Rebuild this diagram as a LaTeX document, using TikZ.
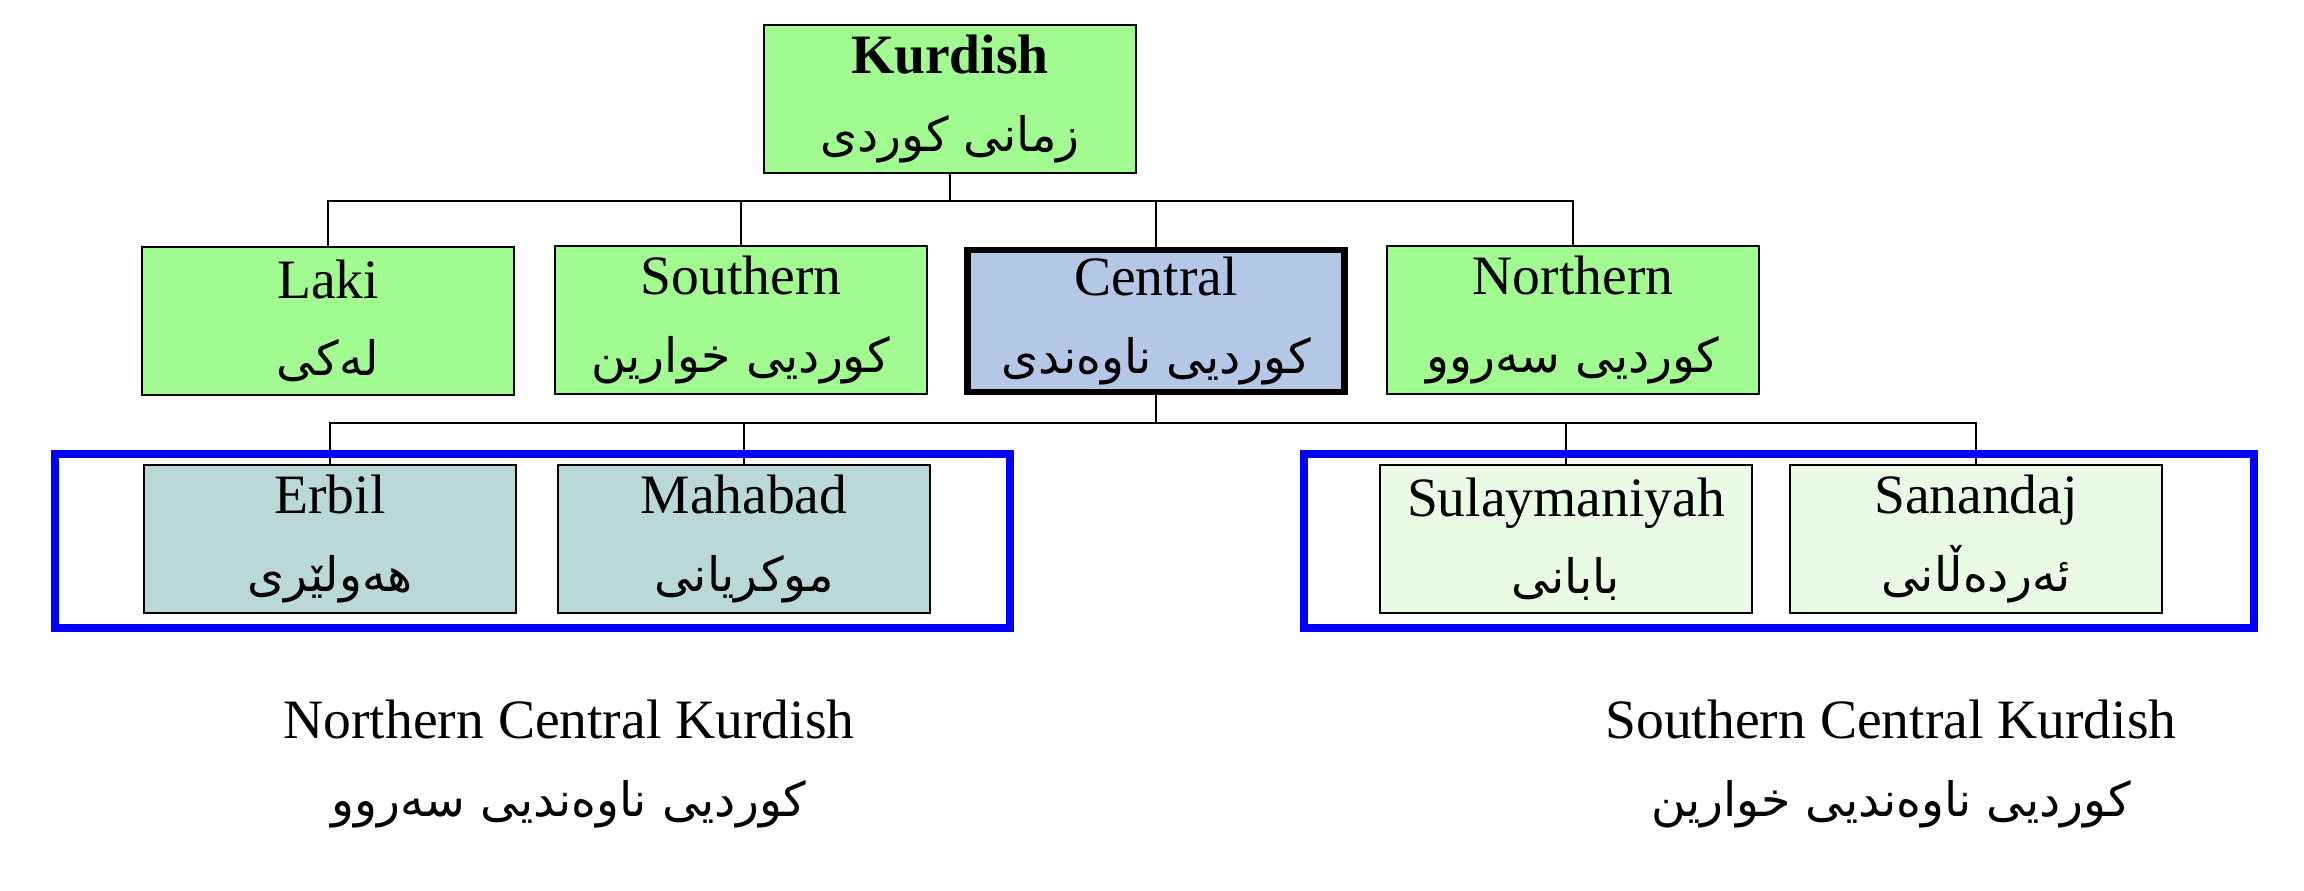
\documentclass[tikz,border=0pt]{standalone}
\usepackage{fontspec}
\setmainfont{Liberation Serif}
\newfontfamily\arabicfont[Script=Arabic]{DejaVu Sans}
\TeXXeTstate=1
\usepackage{tikz}
\newcommand{\ku}[1]{{\fontsize{13.5}{22}\arabicfont\beginR #1\endR}}
\definecolor{kgreen}{RGB}{162,251,144}
\definecolor{cblue}{RGB}{181,199,230}
\definecolor{nteal}{RGB}{187,216,217}
\definecolor{spale}{RGB}{233,251,229}
\tikzset{
	box/.style = {draw, line width=0.7pt, minimum width=3.72cm, minimum height=1.48cm,
		align=center, inner sep=0pt, font=\fontsize{15.8}{22}\selectfont},
	group/.style = {draw=blue, line width=2.3pt},
	link/.style = {line width=0.5pt}
}

\begin{document}
\begin{tikzpicture}[x=0.01cm, y=-0.01cm]
	\useasboundingbox (0,0) rectangle (2304,890);
	% top
	\node [box, fill=kgreen] (kurdish) at (950,99) {\textbf{Kurdish}\\\ku{زمانی کوردی}};
	% dialect groups
	\node [box, fill=kgreen] (laki) at (328,321) {Laki\\\ku{لەکی}};
	\node [box, fill=kgreen] (southern) at (741,320) {Southern\\\ku{کوردیی خوارین}};
	\node [box, fill=cblue, line width=1.8pt, minimum width=3.77cm, minimum height=1.42cm] (central) at (1156,321) {Central\\\ku{کوردیی ناوەندی}};
	\node [box, fill=kgreen] (northern) at (1573,320) {Northern\\\ku{کوردیی سەروو}};
	% sub-dialects
	\node [box, fill=nteal] (erbil) at (330,539) {Erbil\\\ku{هەولێری}};
	\node [box, fill=nteal] (mahabad) at (744,539) {Mahabad\\\ku{موکریانی}};
	\node [box, fill=spale] (sulaymaniyah) at (1566,539) {Sulaymaniyah\\\ku{بابانی}};
	\node [box, fill=spale] (sanandaj) at (1976,539) {Sanandaj\\\ku{ئەردەڵانی}};
	% links
	\coordinate (bar1) at (950,201);
	\coordinate (bar2) at (1156,423);
	\draw [link] (kurdish.south) -- (bar1);
	\foreach \n in {laki,southern,central,northern}
		\draw [link] (\n.north) |- (bar1);
	\draw [link] (central.south) -- (bar2);
	\foreach \n in {erbil,mahabad,sulaymaniyah,sanandaj}
		\draw [link] (\n.north) |- (bar2);
	% groups
	\draw [group] (55,454) rectangle (1010,628);
	\draw [group] (1304,454) rectangle (2254,628);
	\node [align=center, font=\fontsize{15.8}{22}\selectfont] (nck) at (569,764) {Northern Central Kurdish\\\ku{کوردیی ناوەندیی سەروو}};
	\node [align=center, font=\fontsize{15.8}{22}\selectfont] (sck) at (1891,764) {Southern Central Kurdish\\\ku{کوردیی ناوەندیی خوارین}};
\end{tikzpicture}
\end{document}
